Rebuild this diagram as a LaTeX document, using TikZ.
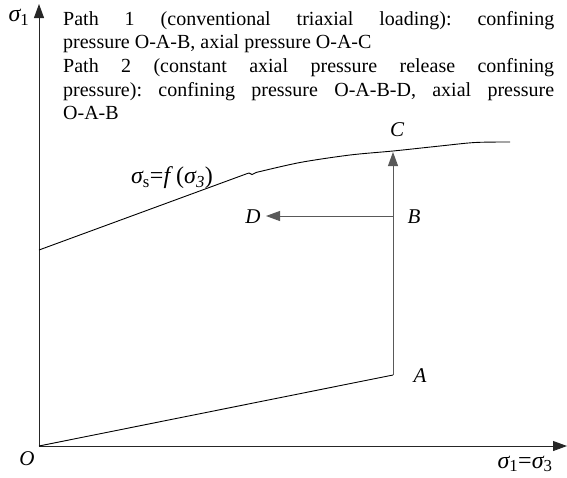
\documentclass[tikz,border=0pt]{standalone}
\usepackage{fontspec}
\setmainfont{Liberation Serif}
\usetikzlibrary{arrows.meta}
\begin{document}
\begin{tikzpicture}[x=1pt,y=-1pt,
  tip/.style={-{Triangle[length=14pt,width=10pt]}},
  axis/.style={line width=0.9pt, black!85, tip},
  ln/.style={line width=0.9pt, black},
  pathln/.style={line width=0.9pt, black!65},
  lab/.style={font=\fontsize{21}{24}\selectfont\itshape, inner sep=0pt},
  biglab/.style={font=\fontsize{24}{27}\selectfont\itshape, inner sep=0pt},
  para/.style={font=\fontsize{20}{23.7}\selectfont\frenchspacing, inner sep=0pt, text width=491pt, align=justify, anchor=base west}
]
\useasboundingbox (0,0) rectangle (567,477);
\coordinate (O) at (39,446);
\coordinate (Ytip) at (39,4);
\coordinate (Xtip) at (567,446);
\coordinate (A) at (393,375);
\coordinate (B) at (393,216);
\coordinate (C) at (393,152);
\coordinate (D) at (266,216);
\coordinate (s0) at (39,250);
\coordinate (s1) at (246,174);
\draw[axis] (O) -- (Ytip);
\draw[axis] (O) -- (Xtip);
\draw[ln] (O) -- (A);
\draw[pathln, tip] (A) -- (C);
\draw[pathln, tip] (B) -- (D);
\draw[ln] (s0) -- (s1) -- (249,173) -- (252,174.5) -- (256,172.5)
  plot[smooth] coordinates {(256,172.5) (300,162.5) (350,155) (393,151) (440,146) (475,142.5) (510,142)};
\node[lab] (lO) at (27,459) {O};
\node[lab] (lA) at (420,376) {A};
\node[lab] (lB) at (414,217) {B};
\node[lab] (lC) at (397,130) {C};
\node[lab] (lD) at (253,217) {D};
\node[biglab] (ly) at (19,17) {σ{\upshape\textsubscript{1}}};
\node[biglab] (lx) at (525,464) {σ{\upshape\textsubscript{1}=}σ{\upshape\textsubscript{3}}};
\node[biglab] (lf) at (172,178) {σ{\upshape\textsubscript{s}=}f {\upshape(}σ\textsubscript{3}{\upshape)}};
\node[para] (txt) at (63,25) {\hyphenpenalty=10000\exhyphenpenalty=10000\tolerance=10000
Path 1 (conventional triaxial loading): confining\linebreak
pressure O-A-B, axial pressure O-A-C\par
Path 2 (constant axial pressure release confining\linebreak
pressure): confining pressure O-A-B-D, axial pressure\linebreak
O-A-B\par};
\end{tikzpicture}
\end{document}
